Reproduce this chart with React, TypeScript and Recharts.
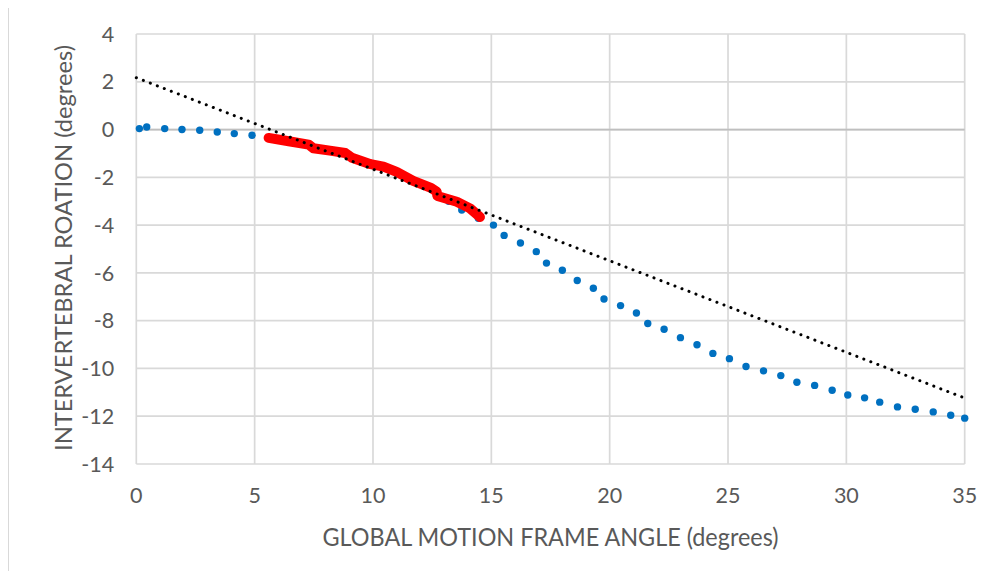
import React from 'react';
import { ScatterChart, Scatter, XAxis, YAxis, CartesianGrid, ReferenceLine, Label } from 'recharts';

const xTicks = [0, 5, 10, 15, 20, 25, 30, 35];
const yTicks = [-14, -12, -10, -8, -6, -4, -2, 0, 2, 4];

const blueX = [0.13, 0.44, 1.2, 1.93, 2.68, 3.42, 4.14, 4.89, 5.6, 6.3, 7.0, 7.7, 8.4, 9.1, 9.8, 10.5, 11.2, 11.9, 12.6, 13.2, 13.75, 14.45,
  15.09, 15.54, 16.23, 16.9, 17.33, 18.0, 18.63, 19.31, 19.76, 20.46, 21.13, 21.61, 22.3, 22.99, 23.69, 24.36, 25.06, 25.76, 26.5, 27.23,
  27.91, 28.66, 29.4, 30.06, 30.77, 31.41, 32.16, 32.91, 33.67, 34.41, 35.0];
const blueY = [0.04, 0.11, 0.04, 0.0, -0.03, -0.1, -0.17, -0.24, -0.36, -0.47, -0.58, -0.8, -0.92, -1.18, -1.42, -1.58, -1.88, -2.22, -2.55, -3.0, -3.37, -3.71,
  -4.0, -4.43, -4.75, -5.11, -5.59, -5.89, -6.32, -6.64, -7.09, -7.37, -7.68, -8.12, -8.36, -8.71, -9.01, -9.37, -9.59, -9.92, -10.1, -10.3,
  -10.58, -10.71, -10.91, -11.11, -11.23, -11.41, -11.61, -11.71, -11.82, -11.96, -12.08];

const redX = [5.59, 6.44, 7.28, 7.48, 8.18, 8.83, 9.11, 9.9, 10.44, 11.0, 11.7, 12.45, 12.69, 12.72, 13.54, 14.1, 14.52];
const redY = [-0.35, -0.49, -0.63, -0.78, -0.88, -0.98, -1.18, -1.45, -1.55, -1.77, -2.15, -2.44, -2.6, -2.78, -3.02, -3.3, -3.66];

const trendX = [0, 35];
const trendY = [2.17, -11.24];

const blue = blueX.map((x, i) => ({ x, y: blueY[i] }));
const red = redX.map((x, i) => ({ x, y: redY[i] }));
const trend = trendX.map((x, i) => ({ x, y: trendY[i] }));

const FONT = "Lato, 'Open Sans', sans-serif";
const TEXT = '#595959';

const XTitle = (props: any) => {
  const vb = props.viewBox || { x: 128.3, y: 456, width: 828.4, height: 40 };
  return (
    <text x={vb.x + vb.width / 2} y={vb.y + 82} textAnchor="middle" fill={TEXT} fontSize={24.5} fontFamily={FONT}
      textLength={456} lengthAdjust="spacingAndGlyphs">
      GLOBAL MOTION FRAME ANGLE (degrees)
    </text>
  );
};

const YTitle = (props: any) => {
  const vb = props.viewBox || { x: 68.3, y: 26, width: 60, height: 430 };
  const x = 64;
  const y = vb.y + vb.height / 2 - 1;
  return (
    <g transform={`translate(${x}, ${y}) rotate(-90)`}>
      <text x={0} y={0} textAnchor="middle" fill={TEXT} fontSize={24} fontFamily={FONT}
        textLength={406} lengthAdjust="spacingAndGlyphs">
        INTERVERTEBRAL ROATION (degrees)
      </text>
    </g>
  );
};

const BlueDot = (props: any) => <circle cx={props.cx} cy={props.cy} r={3.7} fill="#0070C0" />;
const NoDot = () => <g />;

export default function App() {
  return (
    <div style={{ position: 'relative', width: 978, height: 563 }}>
      <style>{`html,body{overflow:hidden}`}</style>
      <div style={{ position: 'absolute', left: -1, top: -2, width: 987, height: 573, borderTop: '2px solid #d9d9d9', borderLeft: '2px solid #d9d9d9', boxSizing: 'border-box' }} />
      <div style={{ position: 'relative' }}>
        <ScatterChart width={978} height={563} margin={{ top: 26, right: 21.3, bottom: 67, left: 68.3 }}>
          <CartesianGrid stroke="#d9d9d9" strokeWidth={1.7} />
          <XAxis type="number" dataKey="x" domain={[0, 35]} ticks={xTicks} interval={0} axisLine={false} tickLine={false}
            tickMargin={18} height={40} tick={{ fill: TEXT, fontSize: 21.5, fontFamily: FONT }}
            label={<Label content={XTitle} />} />
          <YAxis type="number" dataKey="y" domain={[-14, 4]} ticks={yTicks} interval={0} axisLine={false} tickLine={false}
            tickMargin={16} width={60} tick={{ fill: TEXT, fontSize: 21.5, fontFamily: FONT }}
            label={<Label content={YTitle} />} />
          <ReferenceLine y={0} stroke="#bfbfbf" strokeWidth={1.7} />
          <Scatter data={blue} fill="#0070C0" shape={BlueDot} isAnimationActive={false} />
          <Scatter data={red} fill="#FF0000" shape={NoDot} isAnimationActive={false}
            line={{ stroke: '#FF0000', strokeWidth: 10, strokeLinecap: 'round', strokeLinejoin: 'round' }} />
          <Scatter data={trend} fill="#000000" shape={NoDot} isAnimationActive={false}
            line={{ stroke: '#000000', strokeWidth: 3, strokeDasharray: '0.1 7.4', strokeLinecap: 'round' }} />
        </ScatterChart>
      </div>
    </div>
  );
}
